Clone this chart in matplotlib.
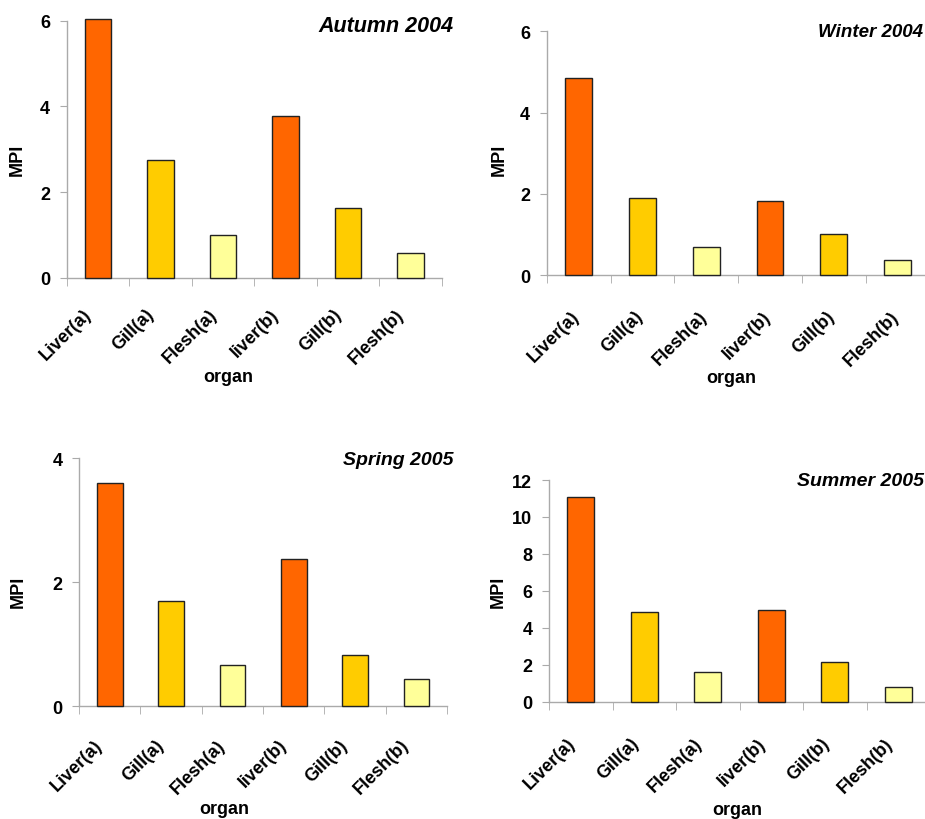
import matplotlib
matplotlib.use("Agg")
import matplotlib.pyplot as plt
from matplotlib.transforms import ScaledTranslation
import numpy as np

plt.rcParams['font.family'] = ['Liberation Sans', 'DejaVu Sans']
plt.rcParams['font.weight'] = 'bold'

organs = ['Liver(a)', 'Gill(a)', 'Flesh(a)', 'liver(b)', 'Gill(b)', 'Flesh(b)']
colors = ['#ff6600', '#ffcc00', '#ffff99', '#ff6600', '#ffcc00', '#ffff99']

autumn_2004 = [6.04, 2.75, 1.00, 3.78, 1.63, 0.57]
winter_2004 = [4.84, 1.90, 0.68, 1.81, 1.02, 0.38]
spring_2005 = [3.60, 1.70, 0.66, 2.37, 0.83, 0.44]
summer_2005 = [11.10, 4.84, 1.59, 4.96, 2.17, 0.79]

fig = plt.figure(figsize=(9.25, 8.2), dpi=100)

# values, title, title size, axes rect, y max, title pos, xlabel pos,
# ylabel pos, xtick pad (pt), xtick shift (px)
panels = [
    (autumn_2004, 'Autumn 2004', 15.5, [0.0721, 0.6601, 0.4054, 0.3134], 6,
     (1.031, 0.983), (0.43, -0.386), (-0.1325, 0.462), 20, -15),
    (winter_2004, 'Winter 2004', 13.5, [0.5910, 0.6634, 0.4140, 0.2972], 6,
     (0.9825, 1.0), (0.483, -0.419), (-0.124, 0.476), 23.3, -8),
    (spring_2005, 'Spring 2005', 14, [0.0854, 0.1374, 0.3980, 0.3024], 4,
     (1.016, 0.997), (0.394, -0.414), (-0.165, 0.466), 21.3, -16),
    (summer_2005, 'Summer 2005', 14, [0.5935, 0.1430, 0.4120, 0.2704], 12,
     (0.984, 1.0), (0.493, -0.484), (-0.133, 0.50), 23.6, -14),
]

x = np.arange(len(organs))
for vals, title, tsize, rect, ymax, tpos, xlpos, ylpos, xpad, xshift in panels:
    ax = fig.add_axes(rect)
    ax.bar(x, vals, width=0.42, color=colors, edgecolor='#222222',
           linewidth=1.0, clip_on=False, zorder=3)
    ax.set_xlim(-0.5, len(organs) - 0.5)
    ax.set_ylim(0, ymax)
    ax.set_yticks(np.arange(0, ymax + 0.1, 2))
    ax.set_xticks(x)
    ax.set_xticks(np.arange(-0.5, len(organs)), minor=True)
    ax.set_xticklabels(organs, rotation=45, ha='right', rotation_mode='anchor',
                       fontsize=13, fontweight='bold')
    ax.tick_params(axis='x', which='major', length=0, pad=xpad)
    ax.tick_params(axis='x', which='minor', length=6, color='#aaaaaa')
    ax.tick_params(axis='y', length=5, color='#aaaaaa', labelsize=13, pad=7)
    shift = ScaledTranslation(xshift / 100, 0, fig.dpi_scale_trans)
    for lab in ax.get_xticklabels():
        lab.set_transform(lab.get_transform() + shift)
    for lab in ax.get_yticklabels():
        lab.set_fontweight('bold')
    for side in ('top', 'right'):
        ax.spines[side].set_visible(False)
    for side in ('left', 'bottom'):
        ax.spines[side].set_color('#aaaaaa')
        ax.spines[side].set_linewidth(1.0)
    ax.set_xlabel('organ', fontsize=13, fontweight='bold', va='center')
    ax.xaxis.set_label_coords(*xlpos)
    ax.set_ylabel('MPI', fontsize=13, fontweight='bold', va='center')
    ax.yaxis.set_label_coords(*ylpos)
    ax.text(tpos[0], tpos[1], title, transform=ax.transAxes, ha='right',
            va='center', fontsize=tsize, fontweight='bold', fontstyle='italic')

fig.savefig('out.png', dpi=100, facecolor='white')
